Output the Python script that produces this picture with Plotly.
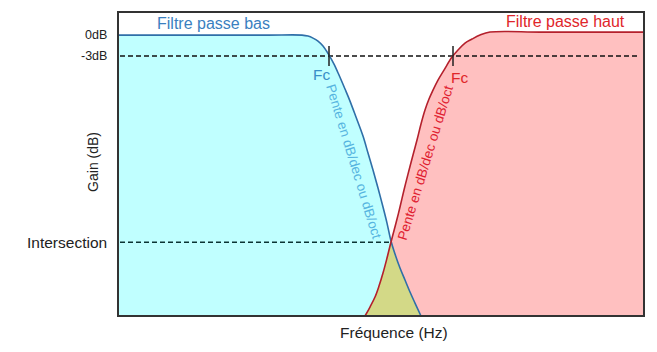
import numpy as np
import plotly.graph_objects as go

# Frequency (arbitrary units) and gain (dB)
lp_freq = [0, 90, 150, 184, 190, 195, 200, 205, 211, 216, 221, 227, 232, 238, 245, 250, 255, 260, 265, 269, 273,
           277, 282, 287, 292, 297, 303]
lp_gain = [0, 0, 0, 0, -0.14, -0.43, -0.86, -1.57, -2.86, -4.14, -5.71, -7.71, -9.43, -11.71, -14.43, -16.86,
           -19.29, -21.86, -24.57, -26.86, -29.43, -31.29, -33.29, -35.0, -36.71, -38.29, -40.14]

hp_freq = [247, 252, 257, 261, 265, 269, 273, 278, 282, 286, 290, 295, 299, 303, 307, 311, 315, 320, 326, 334,
           340, 347, 354, 362, 372, 422, 482, 526]
hp_gain = [-40.14, -38.86, -37.43, -35.86, -34.0, -31.86, -29.57, -26.86, -24.57, -22.14, -19.86, -17.14, -15.0,
           -12.71, -10.71, -9.14, -7.86, -6.43, -5.0, -3.14, -2.14, -1.14, -0.57, 0.0, 0.43, 0.43, 0.43, 0.43]

tick_vals = [0, -3, -29.6]
tick_text = ["0dB", "-3dB", "Intersection"]
tick_sizes = [12.5, 12.5, 15.5]
fc_low = 211
fc_high = 335
intersect_f = 273
intersect_g = -29.6
x_range = [0, 526]
y_range = [-40.14, 3.3]
floor = -45

CYAN = "#c0ffff"
PINK = "#ffc0c0"
OLIVE = "#d3d987"
BLUE = "#2f6fa8"
RED = "#b4202c"

fig = go.Figure()

def base(xs):
    fig.add_trace(go.Scatter(x=[xs[0], xs[-1]], y=[floor, floor], mode="lines",
                             line=dict(width=0), hoverinfo="skip", showlegend=False))

# fills
base(lp_freq)
fig.add_trace(go.Scatter(x=lp_freq, y=lp_gain, mode="lines", fill="tonexty", fillcolor=CYAN,
                         line=dict(width=0, shape="spline"), showlegend=False))
base(hp_freq)
fig.add_trace(go.Scatter(x=hp_freq, y=hp_gain, mode="lines", fill="tonexty", fillcolor=PINK,
                         line=dict(width=0, shape="spline"), showlegend=False))
ov_x = [f for f in hp_freq if f <= intersect_f] + [f for f in lp_freq if f > intersect_f]
ov_y = [g for f, g in zip(hp_freq, hp_gain) if f <= intersect_f] + [g for f, g in zip(lp_freq, lp_gain) if f > intersect_f]
base(ov_x)
fig.add_trace(go.Scatter(x=ov_x, y=ov_y, mode="lines", fill="tonexty", fillcolor=OLIVE,
                         line=dict(width=0, shape="spline"), showlegend=False))

# dashed reference lines
fig.add_trace(go.Scatter(x=[2, 520], y=[-3, -3], mode="lines",
                         line=dict(color="#111", width=1.5, dash="5px,3px"), showlegend=False))
fig.add_trace(go.Scatter(x=[2, intersect_f], y=[intersect_g, intersect_g], mode="lines",
                         line=dict(color="#0a3434", width=1.5, dash="5px,3px"), showlegend=False))

# curves
fig.add_trace(go.Scatter(x=lp_freq, y=lp_gain, mode="lines",
                         line=dict(color=BLUE, width=1.6, shape="spline"), showlegend=False))
fig.add_trace(go.Scatter(x=hp_freq, y=hp_gain, mode="lines",
                         line=dict(color=RED, width=1.6, shape="spline"), showlegend=False))

# Fc ticks
for fc in (fc_low, fc_high):
    fig.add_trace(go.Scatter(x=[fc, fc], y=[-1.57, -4.43], mode="lines",
                             line=dict(color="#222", width=1.5), showlegend=False))

FONT = "Liberation Sans, Arial, sans-serif"
ann = [
    dict(x=95, y=1.7, text="Filtre passe bas", font=dict(color="#3a7fc0", size=16)),
    dict(x=447, y=2.0, text="Filtre passe haut", font=dict(color="#e0262a", size=16)),
    dict(x=203, y=-5.7, text="Fc", font=dict(color="#3a8fc8", size=15.5)),
    dict(x=341, y=-6.0, text="Fc", font=dict(color="#e0262a", size=15.5)),
    dict(x=236, y=-18.0, text="Pente en dB/dec ou dB/oct", textangle=73, font=dict(color="#56b4e0", size=13.5)),
    dict(x=307, y=-18.3, text="Pente en dB/dec ou dB/oct", textangle=-73, font=dict(color="#e02030", size=13.5)),
]
for a in ann:
    a.update(xref="x", yref="y", showarrow=False, xanchor="center", yanchor="middle")
    a["font"]["family"] = FONT
for v, t, s in zip(tick_vals, tick_text, tick_sizes):
    ann.append(dict(xref="paper", yref="y", x=0, y=v, xshift=-9, text=t, showarrow=False,
                    xanchor="right", yanchor="middle", font=dict(family=FONT, size=s, color="#222")))
ann += [
    dict(xref="paper", yref="paper", x=-0.0475, y=0.507, text="Gain (dB)", textangle=-90, showarrow=False,
         xanchor="center", yanchor="middle", font=dict(family=FONT, size=14, color="#222")),
    dict(xref="paper", yref="paper", x=0.525, y=-0.0559, text="Fréquence (Hz)", showarrow=False,
         xanchor="center", yanchor="middle", font=dict(family=FONT, size=15.5, color="#222")),
]

fig.update_layout(
    width=657, height=352,
    margin=dict(l=118, r=13, t=12, b=36),
    paper_bgcolor="white", plot_bgcolor="white",
    annotations=ann,
    shapes=[dict(type="rect", xref="paper", yref="paper", x0=0, y0=0, x1=1, y1=1,
                 line=dict(color="#333", width=2), layer="above")],
    font=dict(family=FONT),
)
fig.update_xaxes(range=x_range, showgrid=False, zeroline=False, showticklabels=False, ticks="")
fig.update_yaxes(range=y_range, showgrid=False, zeroline=False, showticklabels=False, ticks="")

fig.write_html("out.html")
